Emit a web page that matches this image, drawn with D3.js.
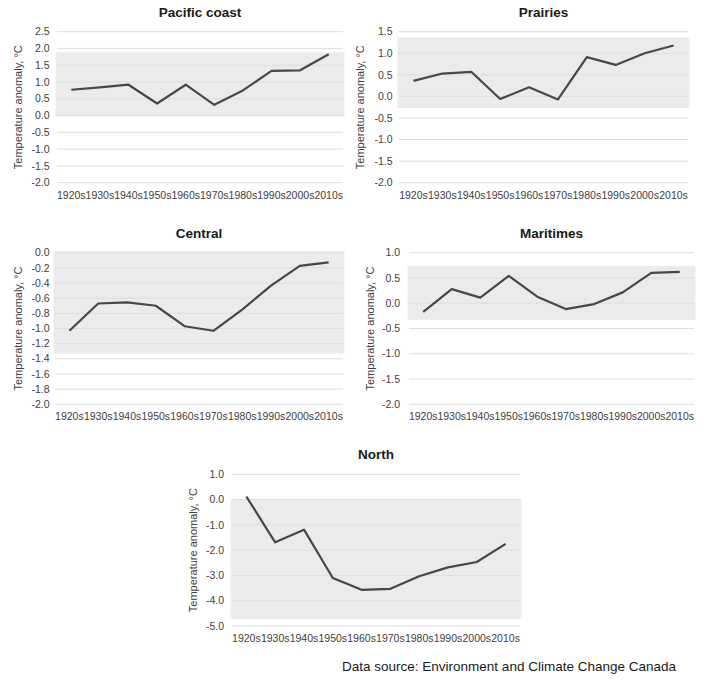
<!DOCTYPE html>
<html>
<head>
<meta charset="utf-8">
<script src="https://cdn.jsdelivr.net/npm/d3@7"></script>
<style>
  html, body { margin: 0; padding: 0; background: #fff; }
  svg { display: block; font-family: "Liberation Sans", Arial, sans-serif; }
</style>
</head>
<body>
<svg id="chart" width="720" height="680"></svg>
<script>
// ---- data ----
const decades = ["1920s","1930s","1940s","1950s","1960s","1970s","1980s","1990s","2000s","2010s"];

const regionNames = ["Pacific coast", "Prairies", "Central", "Maritimes", "North"];

const pacificValues   = [0.77, 0.84, 0.92, 0.36, 0.92, 0.32, 0.75, 1.33, 1.35, 1.83];
const prairiesValues  = [0.36, 0.53, 0.57, -0.06, 0.21, -0.07, 0.91, 0.73, 1.00, 1.18];
const centralValues   = [-1.03, -0.67, -0.655, -0.70, -0.97, -1.03, -0.75, -0.435, -0.175, -0.127];
const maritimesValues = [-0.17, 0.28, 0.11, 0.54, 0.13, -0.115, -0.016, 0.215, 0.60, 0.62];
const northValues     = [0.12, -1.69, -1.19, -3.10, -3.57, -3.53, -3.03, -2.68, -2.47, -1.75];

// shaded band (low, high) per region
const pacificBand   = [-0.03, 1.89];
const prairiesBand  = [-0.27, 1.37];
const centralBand   = [-1.33, 0.02];
const maritimesBand = [-0.33, 0.74];
const northBand     = [-4.72, 0.03];

// y tick labels per region
const pacificTicks   = [-2.0, -1.5, -1.0, -0.5, 0.0, 0.5, 1.0, 1.5, 2.0, 2.5];
const prairiesTicks  = [-2.0, -1.5, -1.0, -0.5, 0.0, 0.5, 1.0, 1.5];
const centralTicks   = [-2.0, -1.8, -1.6, -1.4, -1.2, -1.0, -0.8, -0.6, -0.4, -0.2, 0.0];
const maritimesTicks = [-2.0, -1.5, -1.0, -0.5, 0.0, 0.5, 1.0];
const northTicks     = [-5.0, -4.0, -3.0, -2.0, -1.0, 0.0, 1.0];

const yAxisTitle = "Temperature anomaly, °C";
const sourceText = "Data source: Environment and Climate Change Canada";

// ---- layout (positions only) ----
const panels = [
  { name: regionNames[0], values: pacificValues,   band: pacificBand,   ticks: pacificTicks,
    x0: 57,  x1: 343, yTop: 31.7,  yBot: 182.7, titleY: 12,  axisX: 18,  labelRight: 49.5 },
  { name: regionNames[1], values: prairiesValues,  band: prairiesBand,  ticks: prairiesTicks,
    x0: 399, x1: 688, yTop: 31.7,  yBot: 182.7, titleY: 12,  axisX: 360, labelRight: 392.5 },
  { name: regionNames[2], values: centralValues,   band: centralBand,   ticks: centralTicks,
    x0: 55,  x1: 343, yTop: 252.7, yBot: 404.3, titleY: 233.5, axisX: 18.5, labelRight: 49.5 },
  { name: regionNames[3], values: maritimesValues, band: maritimesBand, ticks: maritimesTicks,
    x0: 409, x1: 694, yTop: 252.7, yBot: 404.3, titleY: 233.5, axisX: 370, labelRight: 400 },
  { name: regionNames[4], values: northValues,     band: northBand,     ticks: northTicks,
    x0: 232, x1: 520, yTop: 474.3, yBot: 626,   titleY: 454.5, axisX: 193.5, labelRight: 224 }
];

const svg = d3.select("#chart");
const fmt = v => (Math.abs(v) < 1e-9 ? 0 : v).toFixed(1);

panels.forEach(p => {
  const g = svg.append("g");
  const x = d3.scalePoint().domain(decades).range([p.x0, p.x1]).padding(0.5);
  const y = d3.scaleLinear().domain(d3.extent(p.ticks)).range([p.yBot, p.yTop]);

  // band
  g.append("rect")
    .attr("x", p.x0 - 1.5)
    .attr("width", p.x1 - p.x0 + 3)
    .attr("y", y(p.band[1]))
    .attr("height", y(p.band[0]) - y(p.band[1]))
    .attr("fill", "#ebebeb");

  // gridlines
  g.selectAll("line.grid").data(p.ticks).join("line")
    .attr("class", "grid")
    .attr("x1", p.x0).attr("x2", p.x1)
    .attr("y1", d => y(d)).attr("y2", d => y(d))
    .attr("stroke", "#dedede").attr("stroke-width", 1);

  // y tick labels
  g.selectAll("text.ytick").data(p.ticks).join("text")
    .attr("class", "ytick")
    .attr("x", p.labelRight).attr("y", d => y(d))
    .attr("dy", "0.35em")
    .attr("text-anchor", "end")
    .attr("font-size", 10.5)
    .attr("fill", "#404040")
    .text(fmt);

  // x tick labels
  g.selectAll("text.xtick").data(decades).join("text")
    .attr("class", "xtick")
    .attr("x", d => x(d)).attr("y", p.yBot + 12.5)
    .attr("dy", "0.35em")
    .attr("text-anchor", "middle")
    .attr("font-size", 10.5)
    .attr("fill", "#404040")
    .text(d => d);

  // line
  const line = d3.line().x((d, i) => x(decades[i])).y(d => y(d));
  g.append("path")
    .datum(p.values)
    .attr("d", line)
    .attr("fill", "none")
    .attr("stroke", "#474747")
    .attr("stroke-width", 2.2)
    .attr("stroke-linejoin", "round");

  // title
  g.append("text")
    .attr("x", (p.x0 + p.x1) / 2).attr("y", p.titleY)
    .attr("dy", "0.35em")
    .attr("text-anchor", "middle")
    .attr("font-size", 13.5)
    .attr("font-weight", "bold")
    .attr("fill", "#1a1a1a")
    .text(p.name);

  // y axis title
  g.append("text")
    .attr("transform", `translate(${p.axisX},${(p.yTop + p.yBot) / 2}) rotate(-90)`)
    .attr("dy", "0.35em")
    .attr("text-anchor", "middle")
    .attr("font-size", 11)
    .attr("fill", "#404040")
    .text(yAxisTitle);
});

svg.append("text")
  .attr("x", 676).attr("y", 666)
  .attr("dy", "0.35em")
  .attr("text-anchor", "end")
  .attr("font-size", 13.5)
  .attr("fill", "#1a1a1a")
  .text(sourceText);
</script>
</body>
</html>
